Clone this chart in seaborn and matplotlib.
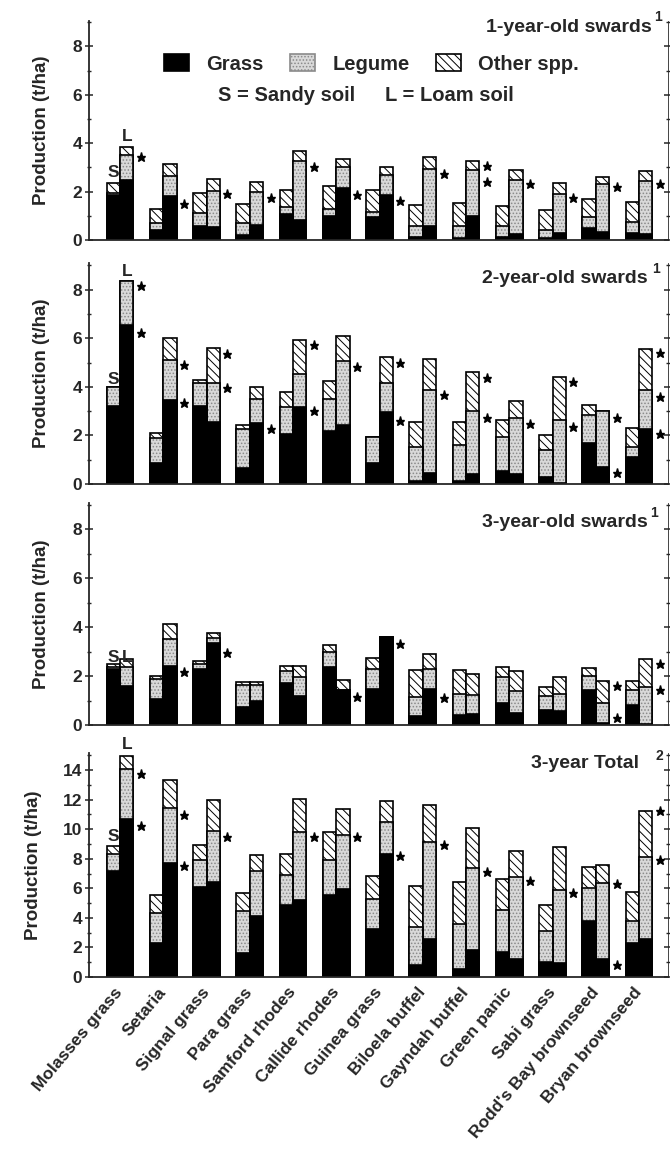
import numpy as np
import pandas as pd
import matplotlib
matplotlib.use("Agg")
import matplotlib.pyplot as plt
from matplotlib.patches import Patch
from matplotlib.ticker import MultipleLocator
import seaborn as sns

# ---------------------------------------------------------------- data
species = ["Molasses grass", "Setaria", "Signal grass", "Para grass",
           "Samford rhodes", "Callide rhodes", "Guinea grass", "Biloela buffel",
           "Gayndah buffel", "Green panic", "Sabi grass", "Rodd's Bay brownseed",
           "Bryan brownseed"]
soils = ["S", "L"]
components = ["Grass", "Legume", "Other spp."]
panel_titles = ["1-year-old swards", "2-year-old swards", "3-year-old swards", "3-year Total "]
title_notes = ["1", "1", "1", "2"]

# 1-year-old swards (t/ha)
y1_grass_S  = [1.85, 0.40, 0.57, 0.22, 1.08, 0.98, 0.95, 0.13, 0.10, 0.12, 0.07, 0.50, 0.30]
y1_legume_S = [0.10, 0.30, 0.55, 0.48, 0.27, 0.30, 0.22, 0.43, 0.47, 0.45, 0.33, 0.45, 0.43]
y1_other_S  = [0.40, 0.60, 0.83, 0.80, 0.73, 0.95, 0.90, 0.88, 0.96, 0.85, 0.85, 0.75, 0.83]
y1_grass_L  = [2.50, 1.82, 0.53, 0.60, 0.83, 2.13, 1.85, 0.58, 1.00, 0.25, 0.28, 0.33, 0.25]
y1_legume_L = [1.00, 0.83, 1.50, 1.40, 2.42, 0.90, 0.83, 2.35, 1.90, 2.25, 1.63, 1.97, 2.20]
y1_other_L  = [0.35, 0.47, 0.50, 0.40, 0.42, 0.30, 0.35, 0.52, 0.37, 0.38, 0.43, 0.32, 0.40]

# 2-year-old swards (t/ha)
y2_grass_S  = [3.20, 0.88, 3.20, 0.67, 2.07, 2.18, 0.85, 0.12, 0.12, 0.53, 0.30, 1.67, 1.10]
y2_legume_S = [0.78, 1.02, 0.95, 1.60, 1.10, 1.30, 1.08, 1.40, 1.50, 1.40, 1.12, 1.18, 0.43]
y2_other_S  = [0.00, 0.22, 0.15, 0.15, 0.60, 0.75, 0.00, 1.05, 0.95, 0.72, 0.58, 0.40, 0.77]
y2_grass_L  = [6.55, 3.45, 2.57, 2.52, 3.18, 2.45, 2.95, 0.44, 0.40, 0.42, 0.05, 0.68, 2.27]
y2_legume_L = [1.80, 1.65, 1.60, 1.00, 1.37, 2.62, 1.20, 3.42, 2.60, 2.30, 2.58, 2.33, 1.60]
y2_other_L  = [0.00, 0.92, 1.43, 0.48, 1.38, 1.03, 1.08, 1.30, 1.62, 0.70, 1.77, 0.00, 1.70]

# 3-year-old swards (t/ha)
y3_grass_S  = [2.30, 1.05, 2.28, 0.75, 1.73, 2.38, 1.46, 0.37, 0.42, 0.88, 0.62, 1.45, 0.82]
y3_legume_S = [0.08, 0.82, 0.20, 0.88, 0.49, 0.62, 0.82, 0.77, 0.86, 1.07, 0.55, 0.56, 0.62]
y3_other_S  = [0.10, 0.13, 0.15, 0.14, 0.19, 0.27, 0.45, 1.10, 0.98, 0.40, 0.38, 0.31, 0.37]
y3_grass_L  = [1.60, 2.42, 3.34, 1.00, 1.20, 1.45, 3.60, 1.46, 0.46, 0.48, 0.56, 0.10, 0.03]
y3_legume_L = [0.75, 1.08, 0.23, 0.63, 0.78, 0.00, 0.00, 0.82, 0.78, 0.90, 0.72, 0.80, 1.52]
y3_other_L  = [0.33, 0.62, 0.20, 0.14, 0.43, 0.37, 0.00, 0.64, 0.85, 0.82, 0.67, 0.88, 1.15]

# 3-year totals (t/ha)
y4_grass_S  = [7.20, 2.30, 6.10, 1.65, 4.90, 5.57, 3.25, 0.80, 0.55, 1.70, 1.00, 3.80, 2.30]
y4_legume_S = [1.15, 2.03, 1.80, 2.82, 1.98, 2.33, 2.05, 2.60, 3.05, 2.85, 2.10, 2.25, 1.50]
y4_other_S  = [0.50, 1.20, 1.05, 1.24, 1.47, 1.94, 1.50, 2.75, 2.85, 2.05, 1.80, 1.40, 1.95]
y4_grass_L  = [10.70, 7.74, 6.40, 4.10, 5.24, 5.98, 8.35, 2.55, 1.85, 1.20, 0.93, 1.20, 2.55]
y4_legume_L = [3.40, 3.70, 3.45, 3.05, 4.60, 3.62, 2.15, 6.55, 5.50, 5.55, 4.95, 5.15, 5.55]
y4_other_L  = [0.87, 1.86, 2.15, 1.07, 2.22, 1.78, 1.40, 2.50, 2.70, 1.80, 2.90, 1.20, 3.10]

# significance stars: (species index, height in t/ha)
y1_stars = [(0, 3.42), (1, 1.50), (2, 1.90), (3, 1.75), (4, 3.02), (5, 1.85), (6, 1.62),
            (7, 2.72), (8, 3.05), (8, 2.40), (9, 2.30), (10, 1.72), (11, 2.20), (12, 2.32)]
y2_stars = [(0, 8.14), (0, 6.23), (1, 4.92), (1, 3.32), (2, 5.37), (2, 3.96), (3, 2.26),
            (4, 5.71), (4, 3.00), (5, 4.80), (6, 5.00), (6, 2.60), (7, 3.68), (8, 4.37),
            (8, 2.70), (9, 2.49), (10, 4.20), (10, 2.36), (11, 2.73), (11, 0.44),
            (12, 5.41), (12, 3.59), (12, 2.05)]
y3_stars = [(1, 2.18), (2, 2.93), (5, 1.16), (6, 3.30), (7, 1.12), (11, 1.60), (11, 0.27),
            (12, 2.51), (12, 1.42)]
y4_stars = [(0, 13.72), (0, 10.20), (1, 10.95), (1, 7.49), (2, 9.48), (4, 9.48), (5, 9.50),
            (6, 8.19), (7, 8.96), (8, 7.07), (9, 6.48), (10, 5.71), (11, 6.28), (11, 0.79),
            (12, 11.22), (12, 7.90)]

panels = [
    (y1_grass_S, y1_legume_S, y1_other_S, y1_grass_L, y1_legume_L, y1_other_L, y1_stars),
    (y2_grass_S, y2_legume_S, y2_other_S, y2_grass_L, y2_legume_L, y2_other_L, y2_stars),
    (y3_grass_S, y3_legume_S, y3_other_S, y3_grass_L, y3_legume_L, y3_other_L, y3_stars),
    (y4_grass_S, y4_legume_S, y4_other_S, y4_grass_L, y4_legume_L, y4_other_L, y4_stars),
]

# ---------------------------------------------------------------- style
sns.set_style("ticks")
plt.rcParams["font.family"] = ["Liberation Sans", "DejaVu Sans"]
plt.rcParams["font.weight"] = "bold"
plt.rcParams["axes.labelweight"] = "bold"
plt.rcParams["hatch.linewidth"] = 0.7

LEGUME_FACE = "#d9d9d9"
LEGUME_DOTS = "#8a8a8a"
OTHER_HATCH = r"\\\\"
BAR_LW = 1.2
GROUP_W = 0.62

W, H = 670, 1155
fig = plt.figure(figsize=(W / 100, H / 100), dpi=100)

# axes frames in pixels: (left, right, top, bottom) and y upper limit
frames = [(89, 668, 21, 240, 9.05), (89, 668, 263, 484, 9.1),
          (89, 668, 503, 725, 9.07), (89, 668, 753, 977, 15.15)]

# title placement (axes fraction): main x, main y, note x, note y
title_pos = [(0.972, 0.970, 0.976, 1.016), (0.965, 0.930, 0.972, 0.973),
             (0.965, 0.912, 0.969, 0.955), (0.960, 0.953, 0.978, 0.987)]
# S / L marker heights per panel
sl_heights = [(2.77, 4.26), (4.32, 8.74), (2.74, 2.74), (9.5, 15.7)]

for k, (gS, lS, oS, gL, lL, oL, stars) in enumerate(panels):
    left, right, top, bottom, ytop = frames[k]
    ax = fig.add_axes([left / W, 1 - bottom / H, (right - left) / W, (bottom - top) / H])

    rows = []
    for soil, g, l, o in (("S", gS, lS, oS), ("L", gL, lL, oL)):
        for sp, gv, lv, ov in zip(species, g, l, o):
            rows.append({"species": sp, "soil": soil, "grass": gv,
                         "legume_top": gv + lv, "total": gv + lv + ov})
    df = pd.DataFrame(rows)

    common = dict(data=df, x="species", hue="soil", order=species, hue_order=soils,
                  width=GROUP_W, gap=0, dodge=True, errorbar=None, saturation=1,
                  legend=False, ax=ax)
    # other species on top (hatched), drawn as full stack height
    sns.barplot(y="total", palette={"S": "white", "L": "white"},
                edgecolor="black", linewidth=BAR_LW, hatch=OTHER_HATCH, **common)
    # legume (stippled) up to grass + legume
    sns.barplot(y="legume_top", palette={"S": LEGUME_FACE, "L": LEGUME_FACE},
                edgecolor=LEGUME_DOTS, linewidth=0, hatch=".....", **common)
    sns.barplot(y="legume_top", palette={"S": "black", "L": "black"},
                fill=False, linewidth=BAR_LW, **common)
    # grass (solid black)
    sns.barplot(y="grass", palette={"S": "black", "L": "black"},
                edgecolor="black", linewidth=BAR_LW, **common)

    # significance stars to the right of each pair
    sx = [s[0] + 0.48 for s in stars]
    sy = [s[1] for s in stars]
    ax.plot(sx, sy, ls="none", marker="*", ms=6.5, color="black", clip_on=False)

    ax.set_xlim(-0.717, 12.67)
    ax.set_ylim(0, ytop)
    ax.set_xlabel("")
    ax.set_ylabel("Production (t/ha)", fontsize=13.5, fontweight="bold")
    ax.yaxis.set_label_coords(-0.067 if k < 3 else -0.081, 0.5)

    ax.yaxis.set_major_locator(MultipleLocator(2))
    ax.yaxis.set_minor_locator(MultipleLocator(1))
    ax.tick_params(axis="y", which="major", direction="inout", length=6, width=1.1,
                   labelsize=12.5, pad=2, right=True)
    ax.tick_params(axis="y", which="minor", direction="inout", length=3, width=1.0,
                   right=True)
    for lab in ax.get_yticklabels():
        lab.set_fontweight("bold")

    for side in ("left", "bottom"):
        ax.spines[side].set_linewidth(1.3)
    ax.spines["right"].set_linewidth(0.6)
    ax.spines["top"].set_visible(False)

    if k < 3:
        ax.set_xticks([])
    else:
        ax.set_xticks(np.arange(len(species)))
        ax.set_xticklabels(species, rotation=50, ha="right", va="center",
                           rotation_mode="anchor", fontsize=12.5, fontweight="bold")
        ax.tick_params(axis="x", length=0, pad=9)

    # panel title with footnote mark
    tx, ty, nx, ny = title_pos[k]
    ax.text(tx, ty, panel_titles[k], transform=ax.transAxes, ha="right", va="center",
            fontsize=14, fontweight="bold")
    ax.text(nx, ny, title_notes[k], transform=ax.transAxes, ha="left", va="center",
            fontsize=10, fontweight="bold", clip_on=False)

    # soil markers over the first pair
    hs, hl = sl_heights[k]
    ax.text(-0.155, hs, "S", ha="center", va="center", fontsize=12.5, fontweight="bold",
            clip_on=False)
    ax.text(0.155, hl, "L", ha="center", va="center", fontsize=12.5, fontweight="bold",
            clip_on=False)

    if k == 0:
        handles = [Patch(facecolor="black", edgecolor="black", linewidth=BAR_LW),
                   Patch(facecolor=LEGUME_FACE, edgecolor=LEGUME_DOTS, hatch=".....",
                         linewidth=BAR_LW),
                   Patch(facecolor="white", edgecolor="black", hatch=OTHER_HATCH,
                         linewidth=BAR_LW)]
        leg = ax.legend(handles, components, ncol=3, loc="center",
                        bbox_to_anchor=(0.488, 0.804), frameon=False, fontsize=14.5,
                        handlelength=1.25, handleheight=0.95, handletextpad=0.85,
                        columnspacing=1.3)
        for t in leg.get_texts():
            t.set_fontweight("bold")
        ax.text(0.223, 0.662, "S = Sandy soil", transform=ax.transAxes, ha="left",
                va="center", fontsize=14.5, fontweight="bold")
        ax.text(0.511, 0.662, "L = Loam soil", transform=ax.transAxes, ha="left",
                va="center", fontsize=14.5, fontweight="bold")

fig.savefig("out.png", dpi=100, facecolor="white")
